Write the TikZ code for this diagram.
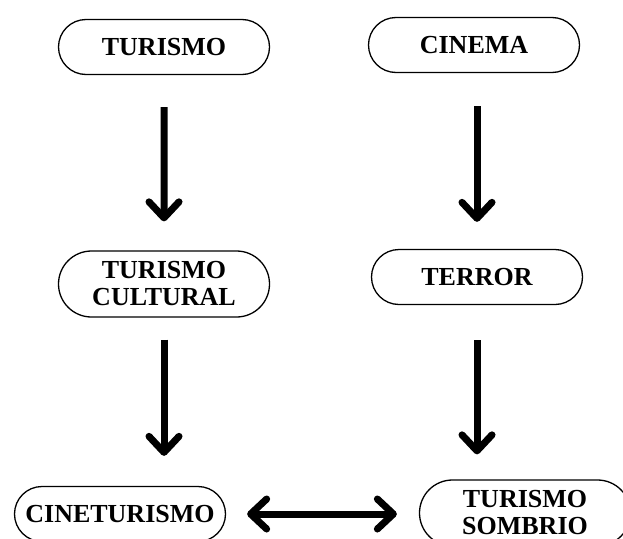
\documentclass[tikz,border=0pt]{standalone}
\usepackage{fontspec}
\setmainfont{Liberation Serif}
\usetikzlibrary{arrows.meta,shapes.misc}

\begin{document}
\begin{tikzpicture}[x=1pt,y=-1pt]
      \tikzstyle{topic}=[draw=black, line width=1.3pt, rounded rectangle, minimum width=215pt, minimum height=55pt, inner sep=2pt, align=center, font=\fontsize{26}{27}\selectfont\bfseries]
      \tikzstyle{topic_tall}=[topic, minimum height=66pt]
      \tikzstyle{flow}=[line width=7pt, -{Straight Barb[round,length=16pt,width=30pt]}]
      \tikzstyle{flow_both}=[flow, {Straight Barb[round,length=16pt,width=30pt]}-{Straight Barb[round,length=16pt,width=30pt]}]

      \useasboundingbox (0,0) rectangle (623,538);

      % first row
      \node [topic] (turismo) at (164,47) {TURISMO};
      \node [topic] (cinema) at (474,45) {CINEMA};

      % second row
      \node [topic_tall] (cultural) at (164,284) {TURISMO\\CULTURAL};
      \node [topic] (terror) at (477,277) {TERROR};

      % last row
      \node [topic] (cineturismo) at (120,514) {CINETURISMO};
      \node [topic_tall] (sombrio) at (525,513) {TURISMO\\SOMBRIO};

      \draw [flow, shorten <=32pt, shorten >=29pt] (turismo) -- (cultural);
      \draw [flow, shorten <=33pt, shorten >=27pt] (cinema.south -| terror.north) -- (terror.north);
      \draw [flow, shorten <=22pt, shorten >=30pt] (cultural.south) -- (cultural.south |- cineturismo.north);
      \draw [flow, shorten <=35pt, shorten >=25pt] (terror.south) -- (terror.south |- sombrio.north);
      \draw [flow_both, shorten <=21pt, shorten >=22pt] (cineturismo.east) -- (cineturismo.east -| sombrio.west);
    \end{tikzpicture}
\end{document}
